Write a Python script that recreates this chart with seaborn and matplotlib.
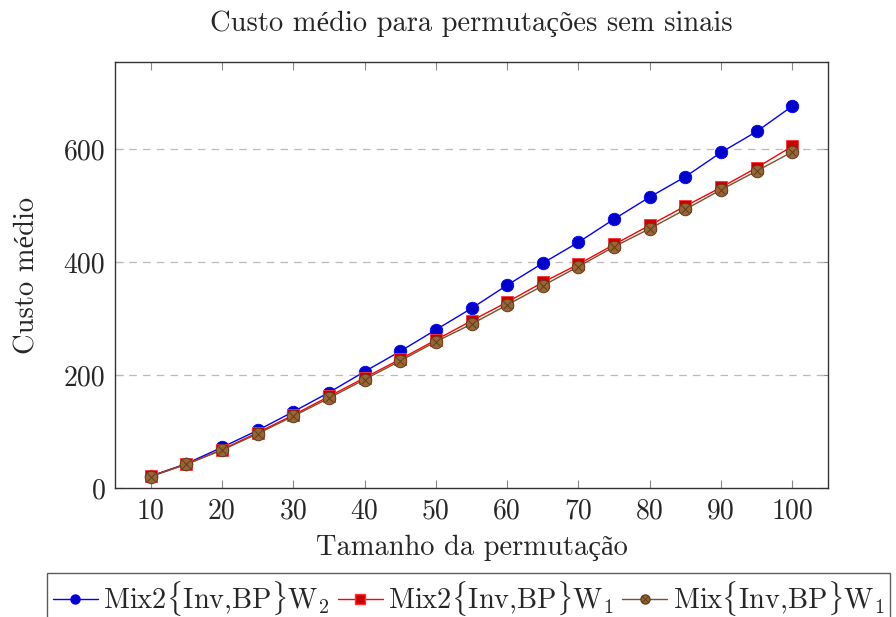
import matplotlib
matplotlib.use("Agg")
import matplotlib.pyplot as plt
import seaborn as sns
import pandas as pd
from matplotlib.lines import Line2D

sizes = [10, 15, 20, 25, 30, 35, 40, 45, 50, 55, 60, 65, 70, 75, 80, 85, 90, 95, 100]
mix2_w2 = [21, 43, 72, 102, 135, 169, 206, 242, 280, 318, 359, 398, 435, 476, 515, 551, 594, 631, 676]
mix2_w1 = [21, 42, 68, 98, 129, 162, 195, 228, 262, 296, 329, 364, 396, 431, 465, 499, 532, 567, 605]
mix_w1 = [20, 42, 67, 96, 127, 159, 192, 225, 259, 290, 324, 358, 392, 427, 459, 493, 528, 561, 595]
labels = [r"Mix2$\{$Inv,BP$\}$W$_2$", r"Mix2$\{$Inv,BP$\}$W$_1$", r"Mix$\{$Inv,BP$\}$W$_1$"]
title = "Custo médio para permutações sem sinais"
xlabel = "Tamanho da permutação"
ylabel = "Custo médio"
xticks = [10, 20, 30, 40, 50, 60, 70, 80, 90, 100]
yticks = [0, 200, 400, 600]

sns.set_style("white")
plt.rcParams["font.family"] = ["cmr10", "Liberation Serif"]
plt.rcParams["mathtext.fontset"] = "cm"
plt.rcParams["axes.formatter.use_mathtext"] = True

fig = plt.figure(figsize=(8.96, 6.17), dpi=100)
ax = fig.add_axes([115/896, 1-488/617, (828-115)/896, (488-62)/617])

df = pd.DataFrame({"x": sizes, "a": mix2_w2, "b": mix2_w1, "c": mix_w1})

sns.lineplot(data=df, x="x", y="a", ax=ax, color="#0000ff", lw=1.0,
             marker="o", markersize=9, markerfacecolor="#0000cc",
             markeredgecolor="#0000ff", markeredgewidth=0.6, zorder=3)
sns.lineplot(data=df, x="x", y="b", ax=ax, color="#ff0000", lw=1.0,
             marker="s", markersize=8.5, markerfacecolor="#cc0000",
             markeredgecolor="#ff3333", markeredgewidth=0.6, zorder=4)
sns.lineplot(data=df, x="x", y="c", ax=ax, color="#7a5230", lw=1.0,
             marker="o", markersize=9, markerfacecolor="#996633",
             markeredgecolor="#5c3d1f", markeredgewidth=0.7, zorder=5)
ax.scatter(df["x"], df["c"], marker="x", s=30, color="#5c3d1f", linewidths=0.7, zorder=6)

ax.set_xlim(5, 105)
ax.set_ylim(0, 754)
ax.set_xticks(xticks)
ax.set_yticks(yticks)
ax.set_xticklabels([str(v) for v in xticks])
ax.set_yticklabels([str(v) for v in yticks])
ax.tick_params(direction="in", length=6, width=0.8, color="#888888",
               labelsize=20, top=True, right=True, bottom=True, left=True, pad=7)
for yv in yticks[1:]:
    ax.axhline(yv, color="#bbbbbb", lw=0.9, ls=(0, (6, 5)), zorder=1)
for s in ax.spines.values():
    s.set_color("#333333")
    s.set_linewidth(1.0)

ax.set_title(title, fontsize=20.5, pad=22)
ax.set_xlabel(xlabel, fontsize=20.5, labelpad=8)
ax.set_ylabel(ylabel, fontsize=20.5, labelpad=17)

h1 = Line2D([], [], color="#0000ff", lw=1.0, marker="o", markersize=6.5,
            markerfacecolor="#0000cc", markeredgecolor="#0000ff")
h2 = Line2D([], [], color="#ff0000", lw=1.0, marker="s", markersize=6.5,
            markerfacecolor="#cc0000", markeredgecolor="#ff3333")
h3a = Line2D([], [], color="#7a5230", lw=1.0, marker="o", markersize=6.5,
             markerfacecolor="#996633", markeredgecolor="#5c3d1f")
h3b = Line2D([], [], color="none", lw=0, marker="x", markersize=4.5,
             markeredgecolor="#5c3d1f", markeredgewidth=0.7)
leg = fig.legend([h1, h2, (h3a, h3b)], labels, loc="upper left",
                 bbox_to_anchor=(47/896, 1-573/617), ncol=3, fontsize=20.5,
                 frameon=True, fancybox=False, handlelength=1.58, handletextpad=0.2,
                 columnspacing=0.28, borderpad=0.2, borderaxespad=0)
leg.get_frame().set_edgecolor("#333333")
leg.get_frame().set_linewidth(1.0)

fig.savefig("out.png", dpi=100)
